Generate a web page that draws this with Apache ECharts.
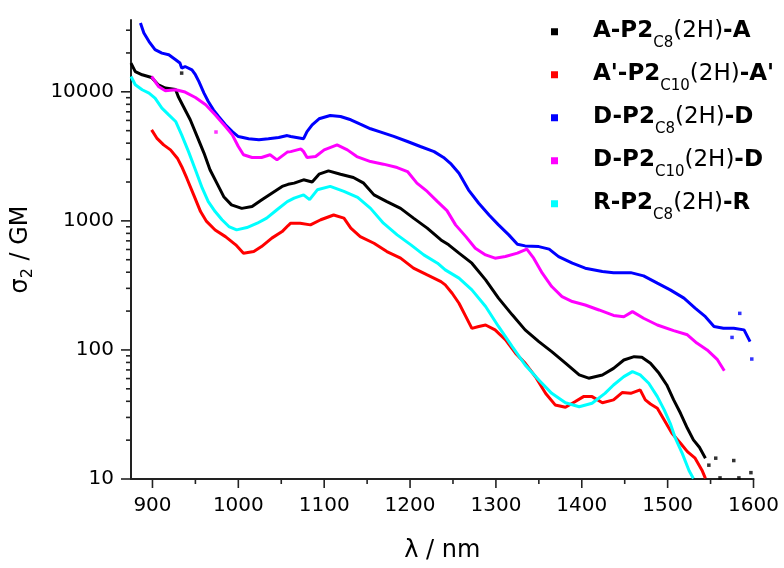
<!DOCTYPE html>
<html>
<head>
<meta charset="utf-8">
<script src="https://cdn.jsdelivr.net/npm/echarts@6/dist/echarts.min.js"></script>
<style>
html,body{margin:0;padding:0;background:#fff}
#wrap{position:relative;width:784px;height:568px}
#c,#o{position:absolute;left:0;top:0;width:784px;height:568px}
#o{pointer-events:none}
</style>
</head>
<body>
<div id="wrap"><div id="c"></div><div id="o"></div></div>
<script>
// ---- data ----
const X_MIN = 875, X_MAX = 1600, Y_MIN = 10, Y_MAX = 36000;

const seriesNames = ['A-P2C8(2H)-A', "A'-P2C10(2H)-A'", 'D-P2C8(2H)-D', 'D-P2C10(2H)-D', 'R-P2C8(2H)-R'];
const seriesColors = ['#000000', '#ff0000', '#0000ff', '#ff00ff', '#00ffff'];

const wlBlack = [875,880,888,899,907,915,927,930,936,944,952,960,967,975,983,992,1004,1016,1027,1039,1051,1058,1065,1076,1086,1094,1105,1119,1134,1146,1158,1173,1189,1204,1220,1236,1245,1257,1272,1288,1303,1319,1334,1350,1365,1381,1397,1408,1424,1437,1449,1461,1470,1480,1490,1499,1507,1515,1523,1530,1537,1544];
const valBlack = [16700,14350,13550,12900,11300,10700,10400,9200,7700,6070,4510,3350,2490,1960,1540,1330,1250,1290,1450,1640,1850,1920,1960,2080,2000,2300,2440,2300,2170,1960,1590,1410,1250,1050,878,712,652,562,470,349,252,187,143,116,97,79,64,60.4,64,72,83.6,88.7,87.8,78.9,65.9,53.5,41,32.3,24.7,20.1,17.6,14.5];
const wlBlackDots = [934,1548,1556,1561,1577,1583,1597];
const valBlackDots = [13960,12.8,14.5,10.2,13.9,10.2,11.2];

const wlRed = [899,905,913,921,929,934,940,948,956,963,973,985,997,1006,1018,1027,1039,1051,1058,1061,1072,1084,1096,1111,1123,1131,1142,1158,1173,1189,1204,1220,1236,1241,1249,1257,1265,1272,1280,1288,1299,1311,1323,1334,1346,1358,1369,1381,1392,1402,1412,1424,1437,1447,1457,1468,1474,1480,1488,1496,1505,1515,1523,1532,1540,1544];
const valRed = [5070,4380,3880,3550,3060,2640,2140,1590,1180,990,850,755,652,562,578,632,735,826,920,959,959,931,1020,1110,1050,878,755,671,578,514,430,381,338,319,275,230,181,147,152,156,143,120,94,79,62,46,37.5,36,39.7,43.5,43.5,39,41,46.7,46.1,49,41,38.1,35.3,28.7,22.6,18.9,16.3,14.5,11.7,10.1];

const wlBlue = [886,890,896,903,911,919,927,932,934,938,946,950,954,960,965,971,977,985,993,1000,1012,1024,1035,1047,1057,1061,1076,1080,1086,1094,1107,1119,1131,1142,1154,1166,1181,1197,1212,1228,1239,1241,1248,1257,1268,1280,1292,1303,1315,1325,1334,1350,1362,1373,1389,1404,1424,1437,1457,1472,1488,1503,1519,1532,1544,1554,1565,1577,1589,1596];
const valBlue = [34100,28500,24500,21200,19950,19360,17700,16700,15270,15700,14800,13560,12030,9770,8410,7250,6440,5550,4920,4500,4330,4250,4330,4430,4580,4500,4330,4920,5550,6180,6550,6440,6070,5620,5170,4870,4510,4120,3770,3440,3100,3060,2750,2340,1740,1370,1110,931,779,659,640,632,604,529,470,430,405,397,397,375,329,292,252,211,181,152,147,147,143,116];
const wlBlueDots = [1575,1584,1598];
const valBlueDots = [125,192,85];

const wlMagenta = [899,907,915,927,938,950,962,973,985,993,1000,1006,1016,1027,1037,1045,1057,1061,1073,1076,1080,1090,1100,1115,1127,1138,1154,1169,1185,1197,1208,1220,1232,1243,1253,1265,1276,1288,1299,1311,1325,1336,1344,1354,1365,1377,1389,1404,1420,1437,1449,1459,1472,1488,1507,1523,1534,1546,1558,1566];
const valMagenta = [13150,11000,10180,10370,9950,9040,7930,6630,5380,4640,3770,3250,3100,3100,3250,2970,3410,3440,3610,3440,3100,3150,3550,3880,3550,3150,2880,2750,2590,2410,1960,1690,1410,1200,931,755,614,545,514,529,562,604,514,393,310,259,237,223,204,185,181,198,176,156,141,131,113,100,84,69];
const wlMagentaDots = [974];
const valMagentaDots = [4880];

const wlCyan = [875,880,888,896,903,911,919,927,934,942,950,958,965,973,981,989,998,1010,1022,1033,1045,1057,1065,1076,1083,1092,1107,1123,1139,1154,1169,1185,1201,1216,1232,1241,1257,1272,1288,1303,1319,1334,1350,1365,1381,1397,1412,1427,1437,1449,1459,1468,1478,1488,1496,1503,1509,1517,1525,1530];
const valCyan = [13150,11330,10370,9770,8940,7480,6630,5890,4640,3440,2490,1790,1410,1180,1020,904,852,888,959,1050,1220,1410,1500,1590,1460,1740,1850,1690,1520,1250,959,779,652,545,470,417,360,292,217,152,106,76.6,58.5,46.1,39,36.3,38.6,46.1,53.5,62.1,67.9,64,55.2,43.5,34.3,27,20.7,15.8,11.6,10.1];

// axis tick values
const xMajorTicks = [900,1000,1100,1200,1300,1400,1500,1600];
const xMinorTicks = [950,1050,1150,1250,1350,1450,1550];
const yMajorTicks = [10,100,1000,10000];
const yMinorTicks = [20,30,40,50,60,70,80,90,200,300,400,500,600,700,800,900,2000,3000,4000,5000,6000,7000,8000,9000,20000,30000];

// ---- build ----
const zip = (a, b) => a.map((v, i) => [v, b[i]]);
const lines = [
  zip(wlBlack, valBlack), zip(wlRed, valRed), zip(wlBlue, valBlue), zip(wlMagenta, valMagenta), zip(wlCyan, valCyan)
];
const dots = [
  zip(wlBlackDots, valBlackDots), [], zip(wlBlueDots, valBlueDots), zip(wlMagentaDots, valMagentaDots), []
];

const legendLabels = {
  'A-P2C8(2H)-A': '{b|A-P2}{s|C8}{r|(2H)}{b|-A}',
  "A'-P2C10(2H)-A'": "{b|A'-P2}{s|C10}{r|(2H)}{b|-A'}",
  'D-P2C8(2H)-D': '{b|D-P2}{s|C8}{r|(2H)}{b|-D}',
  'D-P2C10(2H)-D': '{b|D-P2}{s|C10}{r|(2H)}{b|-D}',
  'R-P2C8(2H)-R': '{b|R-P2}{s|C8}{r|(2H)}{b|-R}'
};

const FONT = 'DejaVu Sans';
const AX = '#222222';
const TW = 1.6;

const series = [];
seriesNames.forEach((n, i) => {
  series.push({
    name: n, type: 'line', data: lines[i], showSymbol: false, symbol: 'rect',
    lineStyle: { color: seriesColors[i], width: 3 }, itemStyle: { color: seriesColors[i] },
    z: 3 + i
  });
  if (dots[i].length) {
    series.push({
      name: n + ' points', type: 'scatter', data: dots[i], symbol: 'rect', symbolSize: 3.5,
      itemStyle: { color: seriesColors[i] }, z: 3 + i
    });
  }
});

const option = {
  animation: false,
  backgroundColor: '#fff',
  grid: { left: 131, right: 30.5, top: 20, bottom: 89 },
  legend: {
    data: seriesNames, orient: 'vertical', left: 551, top: 16.75, padding: 0,
    itemWidth: 7, itemHeight: 7, itemGap: 9.5, icon: 'rect', selectedMode: false,
    formatter: n => legendLabels[n],
    textStyle: {
      padding: [0, 0, 0, 30],
      rich: {
        b: { fontFamily: FONT, fontWeight: 'bold', fontSize: 23, lineHeight: 30, padding: [3, 0, 0, 0], verticalAlign: 'top', color: '#000' },
        r: { fontFamily: FONT, fontWeight: 'normal', fontSize: 23, lineHeight: 30, padding: [3, 0, 0, 0], verticalAlign: 'top', color: '#000' },
        s: { fontFamily: FONT, fontWeight: 'normal', fontSize: 15, lineHeight: 18, padding: [18.5, 0, 0, 0], verticalAlign: 'top', color: '#000' }
      }
    }
  },
  xAxis: {
    type: 'value', min: X_MIN, max: X_MAX, splitNumber: 7,
    axisLine: { show: true, lineStyle: { color: AX, width: 2 } },
    axisTick: { show: false }, splitLine: { show: false },
    axisLabel: { margin: 17, fontFamily: FONT, fontSize: 20, color: '#000',
      formatter: v => (Math.abs(v % 100) < 1e-6 ? String(v) : '') },
    name: 'λ / nm', nameLocation: 'middle', nameGap: 60,
    nameTextStyle: { fontFamily: FONT, fontSize: 24, color: '#000' }
  },
  yAxis: {
    type: 'log', logBase: 10, min: Y_MIN, max: Y_MAX,
    axisLine: { show: true, lineStyle: { color: AX, width: 2 } },
    axisTick: { show: false }, splitLine: { show: false },
    axisLabel: {
      margin: 17, fontFamily: FONT, fontSize: 20, color: '#000',
      formatter: v => { const l = Math.log10(v); return Math.abs(l - Math.round(l)) < 1e-6 ? String(Math.round(v)) : ''; }
    },
    name: '{a|σ}{s|2}{a| / GM}', nameLocation: 'middle', nameGap: 95, nameRotate: 90,
    nameTextStyle: {
      rich: {
        a: { fontFamily: FONT, fontSize: 24, lineHeight: 30, color: '#000' },
        s: { fontFamily: FONT, fontSize: 16, lineHeight: 18, verticalAlign: 'bottom', color: '#000' }
      }
    }
  },
  series: series
};

const chart = echarts.init(document.getElementById('c'), null, { renderer: 'canvas' });
try { chart.setOption(option); } catch (e) { }

// tick marks: positioned through the main chart's scales, drawn on a transparent overlay chart
const tickEls = [];
try {
  const px = (x, y) => chart.convertToPixel({ gridIndex: 0 }, [x, y]);
  xMajorTicks.forEach(v => { const p = px(v, Y_MIN); tickEls.push({ type: 'rect', shape: { x: p[0] - TW / 2, y: p[1], width: TW, height: 9 }, style: { fill: AX } }); });
  xMinorTicks.forEach(v => { const p = px(v, Y_MIN); tickEls.push({ type: 'rect', shape: { x: p[0] - TW / 2, y: p[1], width: TW, height: 5 }, style: { fill: AX } }); });
  yMajorTicks.forEach(v => { const p = px(X_MIN, v); tickEls.push({ type: 'rect', shape: { x: p[0] - 10, y: p[1] - TW / 2, width: 10, height: TW }, style: { fill: AX } }); });
  yMinorTicks.forEach(v => { const p = px(X_MIN, v); tickEls.push({ type: 'rect', shape: { x: p[0] - 5, y: p[1] - TW / 2, width: 5, height: TW }, style: { fill: AX } }); });
} catch (e) { }
const overlay = echarts.init(document.getElementById('o'), null, { renderer: 'canvas' });
overlay.setOption({ animation: false, graphic: tickEls });
</script>
</body>
</html>
